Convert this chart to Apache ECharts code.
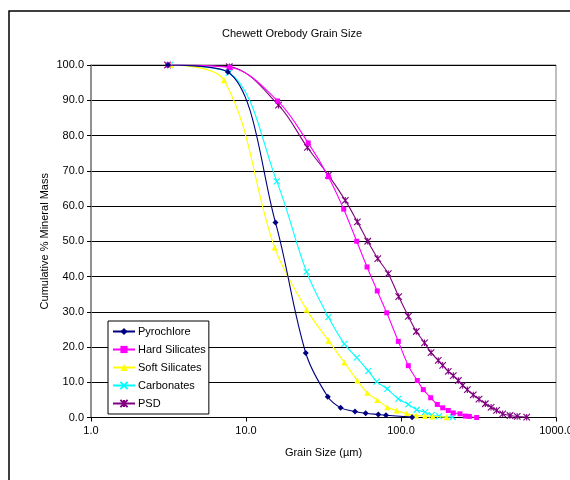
<!DOCTYPE html>
<html><head><meta charset="utf-8">
<script src="https://cdn.jsdelivr.net/npm/echarts@6/dist/echarts.min.js"></script>
<style>html,body{margin:0;padding:0;background:#fff}#c{width:570px;height:480px}</style>
</head><body><div id="c"></div>
<script>
const seriesNames = ['Pyrochlore','Hard Silicates','Soft Silicates','Carbonates','PSD'];
const yTicks = [0,10,20,30,40,50,60,70,80,90,100];
const xTicks = [1,10,100,1000];

const pyroSize = [3.14,7.65,15.5,24.3,33.7,40.8,50.5,59.2,71.4,80.0,118];
const pyroMass = [100,98.0,55.3,18.3,5.9,2.8,1.7,1.2,0.85,0.65,0.1];

const hardSize = [3.14,7.88,16.0,25.2,34.0,42.7,51.8,60.4,70.3,80.9,96.1,111.5,127.4,139.3,155.5,171.5,185.8,201.9,217.5,240.2,260,276,307.7];
const hardMass = [100,99.3,89.8,77.9,68.3,59.1,50.0,42.7,35.9,29.7,21.6,14.7,10.5,7.9,5.6,3.7,2.75,2.0,1.3,1.05,0.4,0.3,0.0];

const softSize = [3.27,7.21,15.3,24.6,34.1,43.1,52.3,60.6,70.3,81.6,93.8,108.9,125,142.8,160.2,197.2];
const softMass = [100,95.7,48.2,30.6,21.8,15.6,10.5,7.0,5.0,2.9,2.0,1.05,0.6,0.4,0.3,0.1];

const carbSize = [3.23,7.77,15.8,24.6,34.0,43.1,51.8,61.5,69.7,81.6,96.1,111.5,126.3,142.8,157.8,175.8,215.6];
const carbMass = [100,97.8,67.0,41.3,28.5,20.9,17.0,13.2,10.2,8.1,5.3,3.7,2.2,1.5,0.65,0.4,0.1];

const psdSize = [3.12,7.8,16.2,24.9,34.0,43.7,52.3,61.0,70.8,82.8,96.6,111.5,125.6,141.8,156.3,174,185.8,201.9,217.5,234.4,250,267.9,292.6,318.6,349.9,381,414,453,505,562,647];
const psdMass = [100,99.5,88.6,76.6,68.75,61.6,55.5,50.0,45.1,40.8,34.3,28.7,24.4,21.2,18.4,16.2,14.8,13.1,11.9,10.5,9.1,7.9,6.4,5.2,3.9,2.9,2.0,1.05,0.57,0.3,0.1];

const sizes = [pyroSize, hardSize, softSize, carbSize, psdSize];
const masses = [pyroMass, hardMass, softMass, carbMass, psdMass];
const colors = ['#000080','#FF00FF','#FFFF00','#00FFFF','#800080'];
const symbols = ['diamond','rect','triangle','path://M0,0L10,10M10,0L0,10','path://M0,0L10,10M10,0L0,10M5,0L5,10'];
const symSizes = [6,5,6,6,6.5];

const font = 'Liberation Sans, Arial, sans-serif';
const chart = echarts.init(document.getElementById('c'));

const series = seriesNames.map((n,i)=>({
  name:n, type:'line', smooth:0.35,
  data: sizes[i].map((s,j)=>[s, masses[i][j]]),
  symbol: symbols[i], symbolSize: symSizes[i],
  lineStyle:{color:colors[i], width:1.1},
  itemStyle:{color:colors[i], borderColor:colors[i], borderWidth: i>=3?1.1:0},
  z: 10-i
}));

chart.setOption({
  animation:false,
  backgroundColor:'#fff',
  textStyle:{fontFamily:font},
  title:{text:'Chewett Orebody Grain Size', left:287, top:23, textAlign:'center',
    textStyle:{fontSize:11, fontWeight:'normal', color:'#000', fontFamily:font}},
  graphic:[{type:'rect', shape:{x:9, y:11, width:700, height:600},
    style:{fill:'none', stroke:'#000', lineWidth:1.5}, silent:true, z:-1}],
  grid:{left:91, right:14, top:65, bottom:62.5, show:true, borderColor:'#808080', borderWidth:1,
    backgroundColor:'#fff', outerBoundsMode:'none', containLabel:false},
  legend:{
    orient:'vertical', left:108, top:321, data:seriesNames,
    backgroundColor:'#fff', borderColor:'#000', borderWidth:1,
    padding:[5,3,5,4], itemGap:7, itemWidth:22, itemHeight:9,
    textStyle:{fontSize:11, color:'#000', fontFamily:font, padding:[0,0,0,-2]}
  },
  xAxis:{
    type:'log', logBase:10, min:xTicks[0], max:xTicks[xTicks.length-1],
    name:'Grain Size (µm)', nameLocation:'middle', nameGap:30, nameMoveOverlap:false,
    nameTextStyle:{fontSize:11, color:'#000', fontFamily:font},
    axisLine:{show:true, lineStyle:{color:'#000', width:1}},
    axisTick:{show:true, length:4, lineStyle:{color:'#000'}},
    minorTick:{show:false},
    splitLine:{show:false},
    axisLabel:{fontSize:11, color:'#000', margin:8, hideOverlap:false, formatter:v=>Number(v).toFixed(1)}
  },
  yAxis:{
    type:'value', min:yTicks[0], max:yTicks[yTicks.length-1], interval:10,
    name:'Cumulative % Mineral Mass', nameLocation:'middle', nameGap:41, nameMoveOverlap:false,
    nameTextStyle:{fontSize:11, color:'#000', fontFamily:font},
    axisLine:{show:true, lineStyle:{color:'#808080', width:1.5}},
    axisTick:{show:true, length:4, lineStyle:{color:'#000'}},
    splitLine:{show:true, lineStyle:{color:'#000', width:1}},
    axisLabel:{fontSize:11, color:'#000', margin:7, formatter:v=>v.toFixed(1)}
  },
  series: series
});
</script></body></html>
